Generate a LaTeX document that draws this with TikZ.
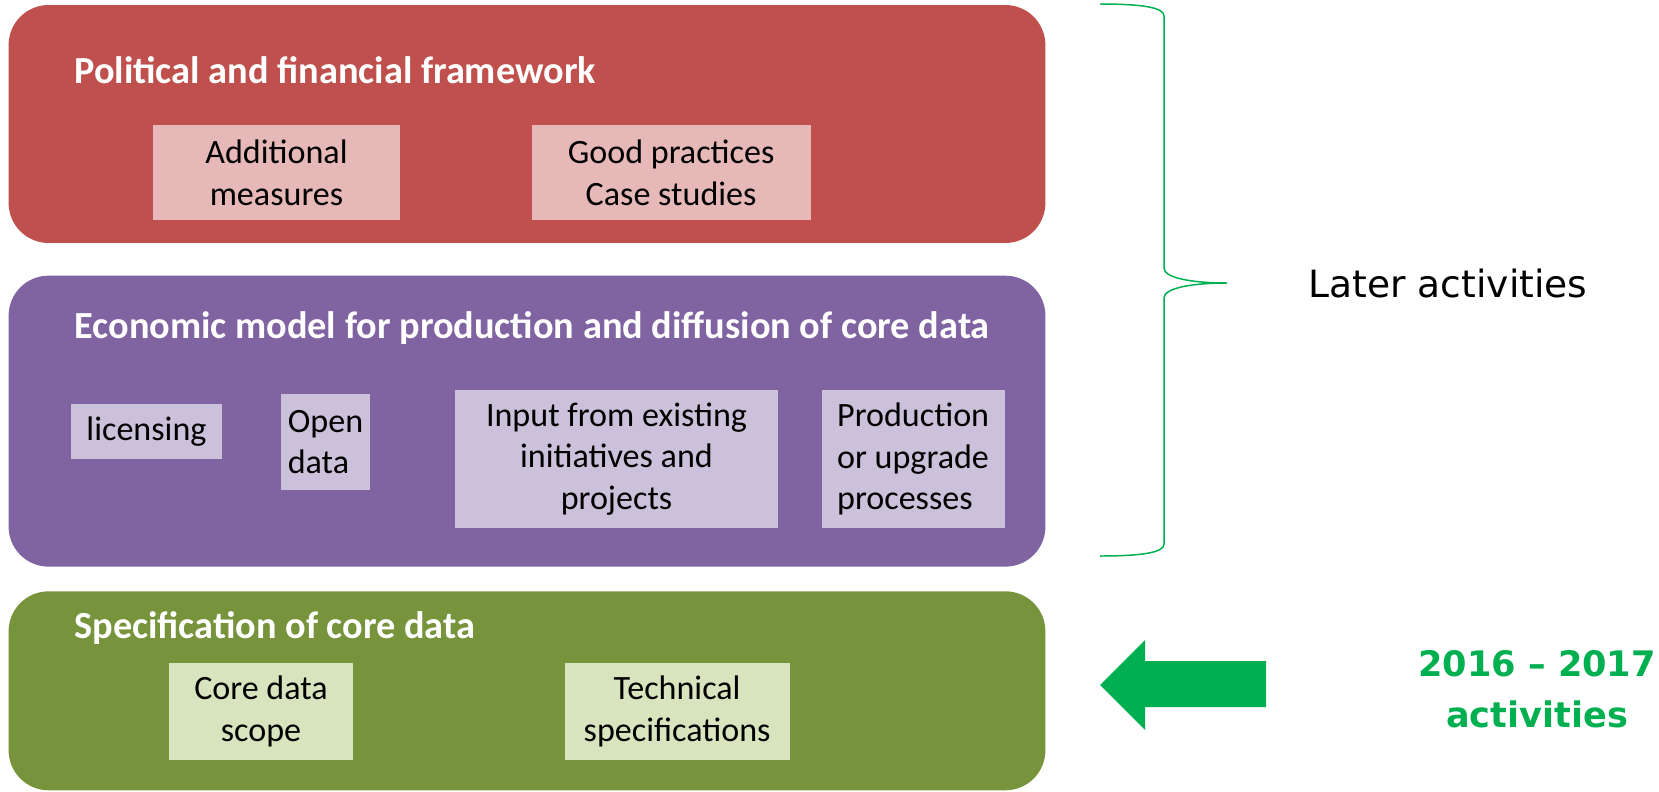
\documentclass[tikz,border=0pt]{standalone}
\usepackage{fontspec}
\setmainfont{Carlito}
\newfontfamily\sidefont{DejaVu Sans}
\usepackage{tikz}
\usetikzlibrary{positioning}
\definecolor{redlayer}{HTML}{C0504D}
\definecolor{reditem}{HTML}{E6B9B8}
\definecolor{purplelayer}{HTML}{8064A2}
\definecolor{purpleitem}{HTML}{CCC1DA}
\definecolor{greenlayer}{HTML}{77933C}
\definecolor{greenitem}{HTML}{D7E4BD}
\definecolor{markgreen}{HTML}{00B050}
\tikzset{x=0.02cm, y=-0.02cm}
\tikzstyle{layer} = [rounded corners=0.8cm, inner sep=0, minimum width=20.74cm]
\tikzstyle{heading} = [anchor=west, inner sep=0, text=white, font={\bfseries\fontsize{21.8}{26}\selectfont}]
\tikzstyle{item} = [inner sep=0, text=black, align=center, font={\fontsize{19.4}{23.8}\selectfont}]
\tikzstyle{sidelabel} = [inner sep=0, align=center, font={\sidefont\fontsize{21.4}{26}\selectfont}]

\begin{document}
\begin{tikzpicture}
  \useasboundingbox (0,0) rectangle (1659,791);
  % layers
  \node[layer, fill=redlayer, minimum height=4.76cm] (framework) at (527,124) {};
  \node[layer, fill=purplelayer, minimum height=5.82cm, below=0.64cm of framework] (economic) {};
  \node[layer, fill=greenlayer, minimum height=3.98cm, below=0.48cm of economic] (specification) {};
  \node[heading] (frameworktitle) at (74,70) {Political and financial framework};
  \node[heading] (economictitle) at (74,328) {Economic model for production and diffusion of core data};
  \node[heading] (specificationtitle) at (74,628) {Specification of core data};
  % items
  \node[item, fill=reditem, minimum width=4.94cm, minimum height=1.9cm] (measures) at (276.5,172.5) {Additional\\measures};
  \node[item, fill=reditem, minimum width=5.58cm, minimum height=1.9cm, right=2.62cm of measures] (practices) {Good practices\\Case studies};
  \node[item, fill=purpleitem, minimum width=3.02cm, minimum height=1.1cm] (licensing) at (146.5,431.5) {licensing};
  \node[item, fill=purpleitem, minimum width=1.78cm, minimum height=1.92cm, align=left] (opendata) at (325.5,442) {Open\\data};
  \node[item, fill=purpleitem, minimum width=6.46cm, minimum height=2.76cm] (initiatives) at (616.5,459) {Input from existing\\initiatives and\\projects};
  \node[item, fill=purpleitem, minimum width=3.66cm, minimum height=2.76cm, align=left, right=0.86cm of initiatives] (production) {Production\\or upgrade\\processes};
  \node[item, fill=greenitem, minimum width=3.68cm, minimum height=1.94cm] (scope) at (261,711.5) {Core data\\scope};
  \node[item, fill=greenitem, minimum width=4.5cm, minimum height=1.94cm, right=4.22cm of scope] (technical) {Technical\\specifications};
  % right side
  \coordinate (bracetop) at (1100,4);
  \coordinate (bracetip) at (1227,283);
  \coordinate (bracebot) at (1100,556);
  \draw[markgreen, line width=0.85pt] (bracetop) .. controls +(45,0) and +(0,-8) .. (1164,16) -- (1164,268)
    .. controls +(0,10) and +(-35,0) .. (bracetip) .. controls +(-35,0) and +(0,-10) .. (1164,298)
    -- (1164,544) .. controls +(0,8) and +(45,0) .. (bracebot);
  \node[sidelabel] (later) at (1448,283) {Later activities};
  \fill[markgreen] (1100,685) -- (1145,640) -- (1145,661) -- (1266,661) -- (1266,707) -- (1145,707) -- (1145,730) -- cycle;
  \node[sidelabel, text=markgreen, font={\sidefont\bfseries\fontsize{20}{28.9}\selectfont}] (current) at (1537,689.5) {2016 – 2017\\activities};
\end{tikzpicture}
\end{document}
